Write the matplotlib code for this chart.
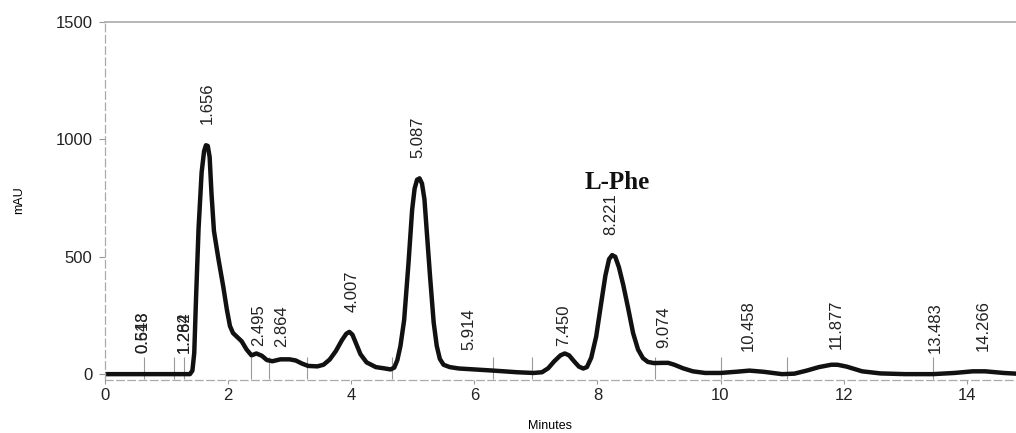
import numpy as np
import matplotlib.pyplot as plt

# chromatogram trace (minutes, mAU)
time = [0, 0.5, 1.0, 1.38, 1.42, 1.45, 1.48, 1.52, 1.57, 1.61, 1.64, 1.67, 1.70, 1.73, 1.77,
        1.84, 1.92, 1.98, 2.03, 2.08, 2.14, 2.22, 2.30, 2.38, 2.46, 2.55, 2.63, 2.72, 2.85,
        3.00, 3.10, 3.20, 3.30, 3.45, 3.55, 3.65, 3.75, 3.85, 3.92, 3.97, 4.02, 4.08, 4.15,
        4.25, 4.40, 4.55, 4.64, 4.70, 4.75, 4.80, 4.86, 4.93, 4.99, 5.03, 5.07, 5.11, 5.15,
        5.19, 5.23, 5.28, 5.34, 5.39, 5.44, 5.50, 5.60, 5.75, 6.00, 6.31, 6.70, 6.96, 7.10,
        7.20, 7.30, 7.40, 7.47, 7.54, 7.62, 7.70, 7.77, 7.83, 7.90, 7.98, 8.06, 8.13, 8.19,
        8.24, 8.29, 8.35, 8.42, 8.50, 8.58, 8.66, 8.74, 8.82, 8.92, 9.05, 9.15, 9.25, 9.39,
        9.55, 9.75, 10.0, 10.25, 10.47, 10.7, 11.0, 11.2, 11.4, 11.6, 11.8, 11.9, 12.05, 12.3,
        12.6, 13.0, 13.45, 13.8, 14.1, 14.3, 14.6, 14.8]
mau = [0, 0, 0, 0, 15, 90, 330, 620, 860, 950, 975, 972, 925, 770, 610,
       495, 375, 275, 205, 175, 160, 140, 105, 80, 88, 78, 60, 55, 63,
       63, 58, 45, 35, 33, 40, 62, 98, 145, 172, 180, 168, 130, 85,
       50, 30, 24, 20, 28, 60, 120, 230, 470, 700, 790, 828, 834, 812,
       745, 600, 420, 220, 120, 65, 40, 30, 24, 20, 15, 8, 5, 8,
       25, 55, 80, 88, 80, 55, 32, 24, 30, 70, 160, 300, 420, 490,
       507, 500, 455, 380, 280, 175, 105, 68, 52, 47, 48, 48, 40, 25,
       12, 5, 5, 10, 15, 10, 0, 2, 15, 30, 40, 40, 32, 12,
       3, 0, 0, 5, 12, 12, 5, 2]

# retention time labels
rt_labels = ['0.613', '0.548', '1.282', '1.264', '1.656', '2.495', '2.864', '4.007', '5.087',
             '5.914', '7.450', '8.221', '9.074', '10.458', '11.877', '13.483', '14.266']
rt_pos = [0.62, 0.62, 1.28, 1.28, 1.656, 2.495, 2.864, 4.007, 5.087,
          5.914, 7.450, 8.221, 9.074, 10.458, 11.877, 13.483, 14.266]

# integration marks
events = [0.63, 1.12, 1.28, 2.38, 2.66, 3.29, 4.67, 6.31, 6.94, 8.93, 10.0, 11.08, 13.45]

plt.rcParams['font.family'] = ['Liberation Sans', 'DejaVu Sans']

fig = plt.figure(figsize=(10.16, 4.33), dpi=100)
ax = fig.add_axes([105/1016, 1-380/433, (1016-105)/1016, (380-22)/433])

ax.vlines(events, -20, 75, color='#999999', lw=0.8)
ax.plot(time, mau, color='#111111', lw=3.2, solid_joinstyle='round', solid_capstyle='round')

t = np.array(time)
y = np.array(mau)
for lab, x in zip(rt_labels, rt_pos):
    h = np.interp(x, t, y)
    # small peaks sit closer to their label
    if h < 120:
        h = min(h + 90, h * 0.3 + 95)
    else:
        h = h + 92
    ax.text(x, h, lab, rotation=90, ha='center', va='bottom', fontsize=12, color='#222222')

ax.text(7.8, 818, 'L-Phe', fontsize=18, fontweight='bold', family='Liberation Serif',
        ha='left', va='center', color='#111111')

ax.set_xlim(0, (1016-105)/61.55)
ax.set_ylim(-25, 1500)
ax.set_xticks([0, 2, 4, 6, 8, 10, 12, 14])
ax.set_yticks([0, 500, 1000, 1500])
ax.tick_params(labelsize=12, colors='#222222', length=4, width=0.8)
ax.tick_params(axis='x', color='#999999', length=3, pad=3)
ax.tick_params(axis='y', color='#999999', pad=5)

ax.spines['right'].set_visible(False)
ax.spines['top'].set_color('#aaaaaa')
ax.spines['top'].set_linewidth(1.2)
for s in ['left', 'bottom']:
    ax.spines[s].set_color('#aaaaaa')
    ax.spines[s].set_linestyle((0, (6, 3)))
    ax.spines[s].set_linewidth(0.9)

fig.text(550/1016, 1-426/433, 'Minutes', fontsize=9, ha='center', va='center')
fig.text(19/1016, 1-200/433, 'mAU', rotation=90, fontsize=9, ha='center', va='center')

plt.savefig('out.png', dpi=100)
